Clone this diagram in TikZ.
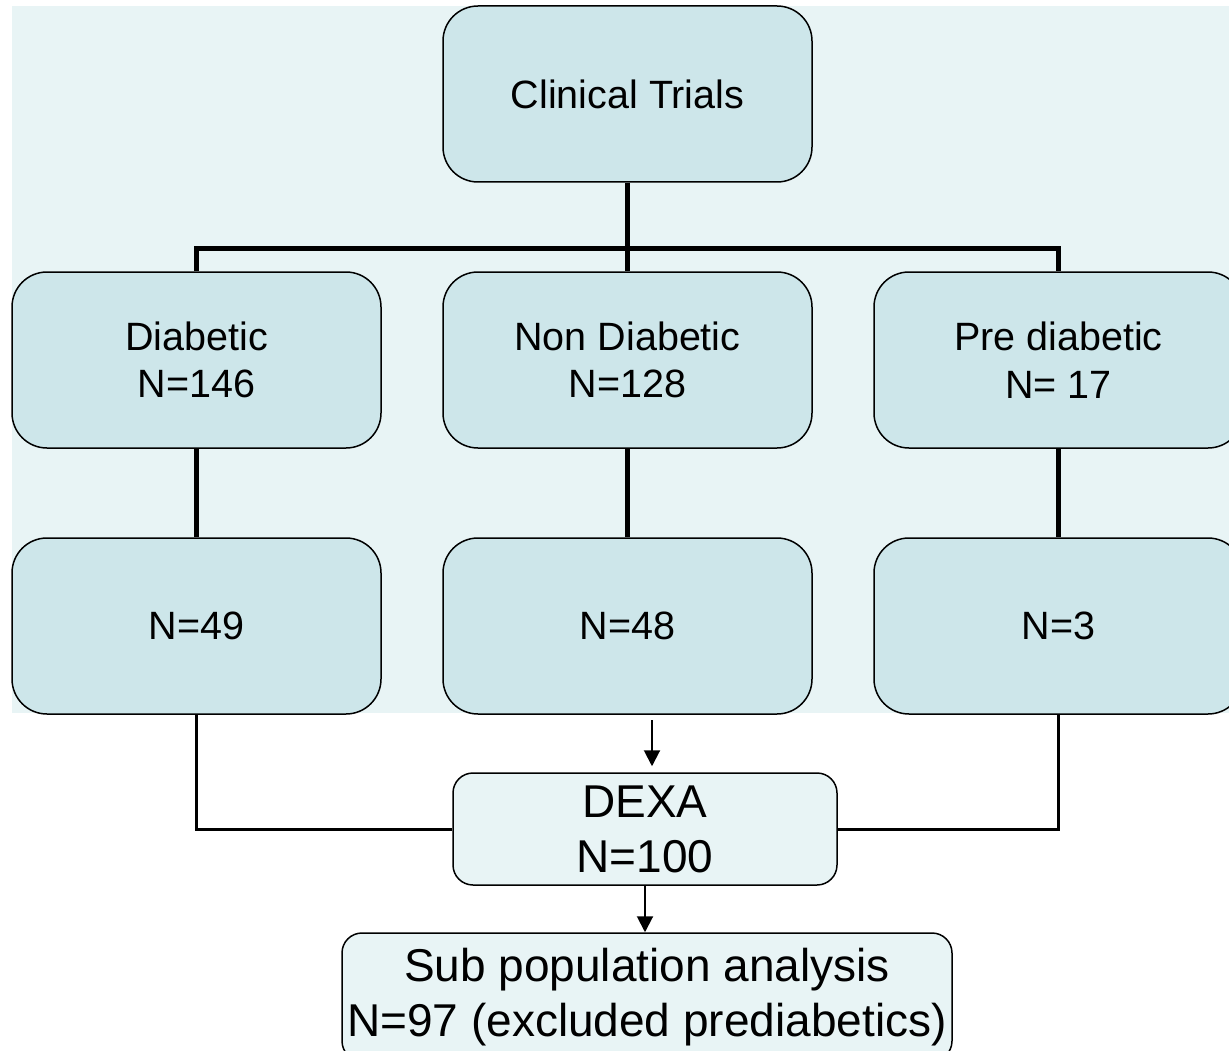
\documentclass[tikz,border=0pt]{standalone}
\usepackage{fontspec}
\setmainfont{Liberation Sans}
\usetikzlibrary{arrows.meta}
\definecolor{bgpale}{HTML}{E8F4F5}
\definecolor{boxfill}{HTML}{CDE6EA}
\tikzset{
  bigbox/.style={draw=black, line width=1.5pt, fill=boxfill, rounded corners=35pt,
    minimum width=369pt, minimum height=176pt, align=center, inner sep=0pt,
    font=\fontsize{39.5pt}{47.5pt}\selectfont},
  lowbox/.style={draw=black, line width=1.5pt, fill=bgpale, rounded corners=20pt,
    align=center, inner sep=0pt, font=\fontsize{46pt}{55pt}\selectfont},
  treeline/.style={line width=5pt, line join=miter},
  thinline/.style={line width=3pt, line join=miter},
  arrowline/.style={line width=2pt, -{Triangle[length=16pt,width=16pt]}}
}
\begin{document}
\begin{tikzpicture}[x=1pt,y=-1pt]
\useasboundingbox (0,0) rectangle (1229,1051);
\clip (0,0) rectangle (1229,1051);
\fill[bgpale] (12,6) rectangle (1229,713);
% nodes
\node[bigbox] (ct) at (627.5,94) {Clinical Trials};
\node[bigbox] (d1) at (196.5,360) {Diabetic\\N=146};
\node[bigbox] (n1) at (627.5,360) {Non Diabetic\\N=128};
\node[bigbox] (p1) at (1058.5,360) {Pre diabetic\\N= 17};
\node[bigbox] (d2) at (196.5,626) {N=49};
\node[bigbox] (n2) at (627.5,626) {N=48};
\node[bigbox] (p2) at (1058.5,626) {N=3};
\node[lowbox, minimum width=384pt, minimum height=112pt] (dexa) at (645,829) {DEXA\\N=100};
\node[lowbox, minimum width=610pt, minimum height=128pt] (sub) at (647,997) {Sub population analysis\\N=97 (excluded prediabetics)};
% tree connectors
\coordinate (j) at (627.5,249);
\draw[treeline] (ct.south) -- (n1.north);
\draw[treeline] (d1.north) |- (j) -| (p1.north);
\draw[treeline] (d1.south) -- (d2.north);
\draw[treeline] (n1.south) -- (n2.north);
\draw[treeline] (p1.south) -- (p2.north);
% thin connectors to DEXA
\draw[thinline] (d2.south) |- (dexa.west);
\draw[thinline] (p2.south) |- (dexa.east);
% arrows
\coordinate (a1) at (652,720);
\draw[arrowline] (a1) -- (a1 |- dexa.north) [shorten >=6pt];
\draw[arrowline] (dexa.south) -- (dexa.south |- sub.north);
\end{tikzpicture}
\end{document}
